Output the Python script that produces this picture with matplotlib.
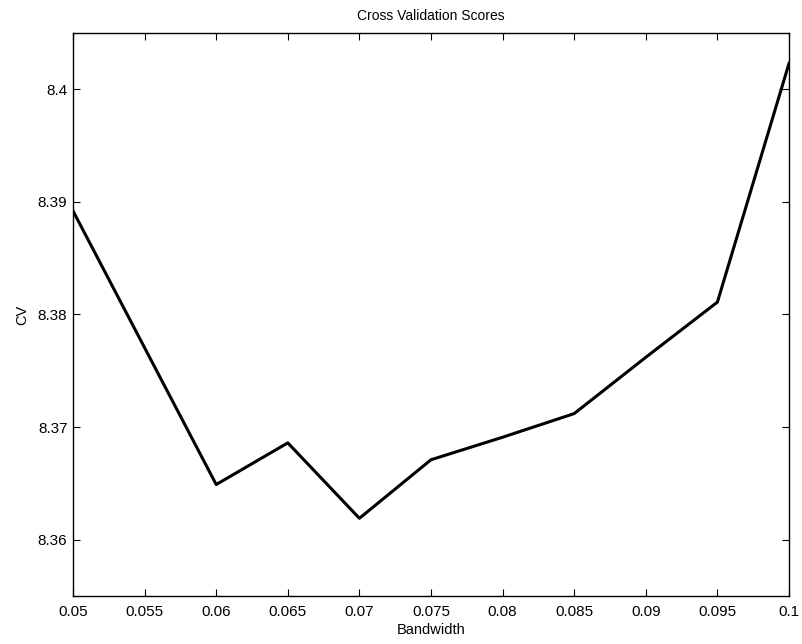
import matplotlib
matplotlib.use("Agg")
import matplotlib.pyplot as plt

bandwidth = [0.05, 0.06, 0.065, 0.07, 0.075, 0.08, 0.085, 0.09, 0.095, 0.1]
cv = [8.3892, 8.3649, 8.3686, 8.3619, 8.3671, 8.3691, 8.3712, 8.3762, 8.3811, 8.4023]
xticks = [0.05, 0.055, 0.06, 0.065, 0.07, 0.075, 0.08, 0.085, 0.09, 0.095, 0.1]
xticklabels = ["0.05", "0.055", "0.06", "0.065", "0.07", "0.075", "0.08", "0.085", "0.09", "0.095", "0.1"]
yticks = [8.36, 8.37, 8.38, 8.39, 8.4]
yticklabels = ["8.36", "8.37", "8.38", "8.39", "8.4"]

plt.rcParams['font.family'] = ['Liberation Sans', 'DejaVu Sans']
fig = plt.figure(figsize=(8.03, 6.44), dpi=100)
ax = fig.add_axes([73/803, 1-596/644, (789-73)/803, (596-33)/644])
ax.plot(bandwidth, cv, color='black', linewidth=2.2)
ax.set_xlim(0.05, 0.1)
ax.set_ylim(8.355, 8.405)
ax.set_xticks(xticks)
ax.set_xticklabels(xticklabels)
ax.set_yticks(yticks)
ax.set_yticklabels(yticklabels)
ax.tick_params(direction='in', length=5, width=0.8, top=True, right=True, labelsize=11)
ax.tick_params(axis='x', pad=6.5)
ax.tick_params(axis='y', pad=4)
for s in ax.spines.values():
    s.set_linewidth(1.0)
ax.set_title("Cross Validation Scores", fontsize=10, pad=9)
ax.set_xlabel("Bandwidth", fontsize=10.5, labelpad=2.5)
ax.set_ylabel("CV", fontsize=10.5, labelpad=6)
fig.savefig("out.png", dpi=100)
